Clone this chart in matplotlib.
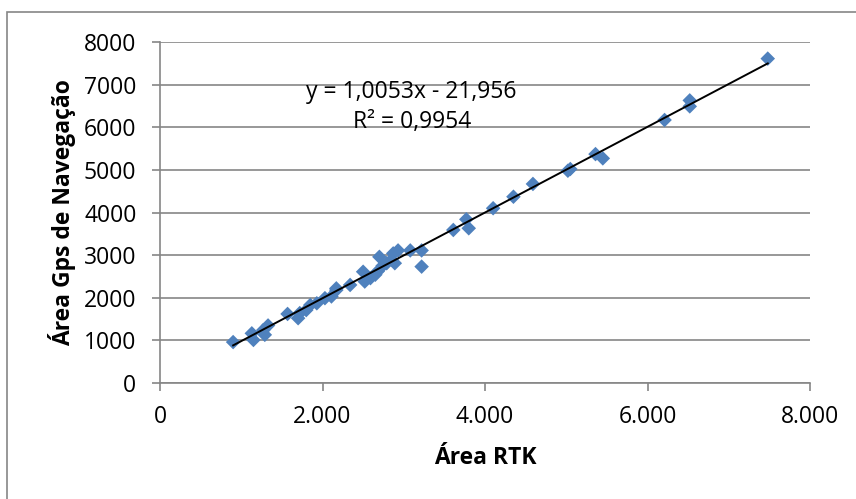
import matplotlib
matplotlib.use("Agg")
import matplotlib.pyplot as plt
from matplotlib.patches import Rectangle
from matplotlib.ticker import FuncFormatter

plt.rcParams['font.family'] = ['Open Sans', 'DejaVu Sans']

# RTK area vs. navigation GPS area
area_rtk = [900, 1130, 1150, 1270, 1290, 1330, 1570, 1700, 1720, 1800,
            1850, 1930, 2030, 2110, 2170, 2170, 2340, 2500, 2520, 2590,
            2650, 2680, 2700, 2740, 2790, 2850, 2870, 2890, 2930, 3080,
            3220, 3220, 3610, 3770, 3800, 4100, 4350, 4590, 5020, 5050,
            5360, 5450, 6210, 6520, 6520, 7480]
area_gps = [960, 1165, 1010, 1240, 1130, 1350, 1620, 1520, 1640, 1710,
            1830, 1870, 1990, 2030, 2220, 2180, 2300, 2610, 2380, 2460,
            2540, 2620, 2960, 2750, 2810, 2890, 3040, 2810, 3110, 3110,
            3110, 2730, 3590, 3840, 3630, 4100, 4370, 4670, 4980, 5020,
            5370, 5270, 6170, 6630, 6490, 7610]

# linear trend line
slope = 1.0053
intercept = -21.956
r2 = 0.9954

x_ticks = [0, 2000, 4000, 6000, 8000]
y_ticks = [0, 1000, 2000, 3000, 4000, 5000, 6000, 7000, 8000]

fig = plt.figure(figsize=(8.56, 4.99), dpi=100)
ax = fig.add_axes([160/856, 1-383/499, 650/856, 341/499])

gray = '#868686'
fs = 16.5
ax.set_xlim(0, 8000)
ax.set_ylim(0, 8000)
ax.set_xticks(x_ticks)
ax.set_yticks(y_ticks)
ax.xaxis.set_major_formatter(FuncFormatter(lambda v, p: f"{int(v):,}".replace(',', '.')))
ax.grid(axis='y', color=gray, linewidth=1.2)
ax.set_axisbelow(True)
for s in ['top', 'right']:
    ax.spines[s].set_visible(False)
for s in ['left', 'bottom']:
    ax.spines[s].set_color(gray)
    ax.spines[s].set_linewidth(1.2)
ax.tick_params(axis='both', colors=gray, labelcolor='black', labelsize=fs,
               length=6, width=1.2)
ax.tick_params(axis='x', pad=10)
ax.tick_params(axis='y', pad=11)

ax.scatter(area_rtk, area_gps, marker='D', s=55, color='#4F81BD',
           edgecolors='none', zorder=3)

x0, x1 = min(area_rtk), max(area_rtk)
ax.plot([x0, x1], [slope*x0 + intercept, slope*x1 + intercept],
        color='black', linewidth=1.4, zorder=4)

ax.text(3095, 6693, f"y = {slope:.4f}x - {abs(intercept):.3f}".replace('.', ','),
        ha='center', va='baseline', fontsize=fs)
ax.text(3098, 5975, f"R² = {r2:.4f}".replace('.', ','),
        ha='center', va='baseline', fontsize=fs)

ax.set_xlabel('Área RTK', fontsize=fs, fontweight='bold', labelpad=12)
ax.set_ylabel('Área Gps de Navegação', fontsize=fs, fontweight='bold', labelpad=6)

fig.patches.append(Rectangle((7/856, -0.1), 1.2, 1.1 - 12/499, transform=fig.transFigure,
                             fill=False, edgecolor=gray, linewidth=1.2))

fig.savefig('out.png', dpi=100)
